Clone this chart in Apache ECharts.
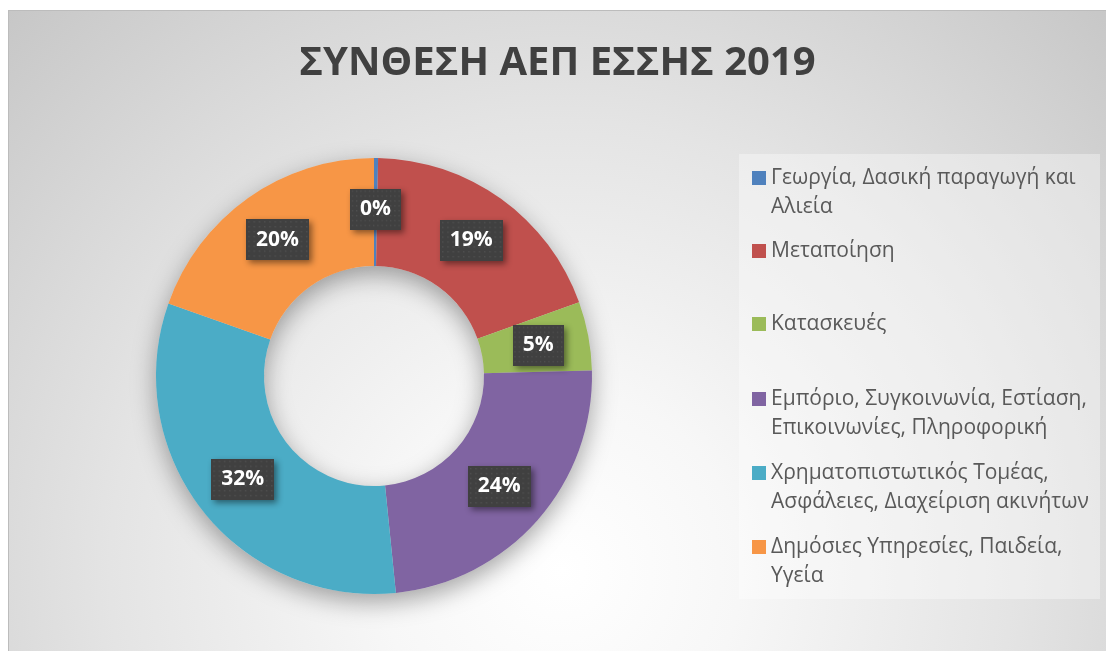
<!DOCTYPE html>
<html>
<head>
<meta charset="utf-8">
<script src="https://cdn.jsdelivr.net/npm/echarts@6/dist/echarts.min.js"></script>
<style>
  html, body { margin: 0; padding: 0; background: #ffffff; }
  #frame {
    position: absolute; left: 8px; top: 10px; width: 1098px; height: 641px;
    background: radial-gradient(circle 820px at 552px 560px, #ffffff 0%, #f7f7f7 22%, #e4e4e4 55%, #c4c4c4 100%);
    border-top: 1px solid #bcbcbc; border-left: 1px solid #bcbcbc; box-sizing: border-box;
  }
</style>
</head>
<body>
<div id="frame"></div>
<script>
const titleText = 'ΣΥΝΘΕΣΗ ΑΕΠ ΕΣΣΗΣ 2019';
const categories = [
  'Γεωργία, Δασική παραγωγή και Αλιεία',
  'Μεταποίηση',
  'Κατασκευές',
  'Εμπόριο, Συγκοινωνία, Εστίαση, Επικοινωνίες, Πληροφορική',
  'Χρηματοπιστωτικός Τομέας, Ασφάλειες, Διαχείριση ακινήτων',
  'Δημόσιες Υπηρεσίες, Παιδεία, Υγεία'
];
const legendLabels = [
  'Γεωργία, Δασική παραγωγή και\nΑλιεία',
  'Μεταποίηση',
  'Κατασκευές',
  'Εμπόριο, Συγκοινωνία, Εστίαση,\nΕπικοινωνίες, Πληροφορική',
  'Χρηματοπιστωτικός Τομέας,\nΑσφάλειες, Διαχείριση ακινήτων',
  'Δημόσιες Υπηρεσίες, Παιδεία,\nΥγεία'
];
const values = [0.3, 19.2, 5.1, 23.8, 32.0, 19.6];
const colors = ['#4f81bd', '#c0504d', '#9bbb59', '#8064a2', '#4bacc6', '#f79646'];

// dotted texture for the data label boxes
function makeDots() {
  const c = document.createElement('canvas');
  c.width = 60; c.height = 42;
  const g = c.getContext('2d');
  g.fillStyle = '#404040';
  g.fillRect(0, 0, c.width, c.height);
  g.fillStyle = '#4f4f4f';
  for (let y = 2; y < c.height; y += 5) {
    for (let x = 2; x < c.width; x += 5) {
      g.fillRect(x, y, 1.5, 1.5);
    }
  }
  return c;
}
const dots = makeDots();

const chart = echarts.init(document.getElementById('frame'), null, { renderer: 'canvas' });

const center = [365, 365];
const radius = [110, 218];
const legendLineCenters = [167, 240, 313, 388, 462, 536];
const lineH = 29;
const sq = 14;
// icon whose visible square sits beside the first of two text lines
const tallIcon = 'path://M0,0L14,0L14,14L0,14Z M0,43L0.001,43L0.001,42.999Z';

const legends = categories.map((name, i) => {
  const twoLine = legendLabels[i].indexOf('\n') >= 0;
  return {
    orient: 'vertical',
    left: 743,
    top: legendLineCenters[i] - lineH / 2,
    padding: 0,
    itemWidth: sq,
    itemHeight: twoLine ? sq + lineH : sq,
    icon: twoLine ? tallIcon : 'rect',
    data: [name],
    formatter: () => legendLabels[i],
    textStyle: {
      fontFamily: 'Open Sans',
      fontSize: 21,
      color: '#595959',
      lineHeight: lineH
    }
  };
});

const option = {
  animation: false,
  color: colors,
  title: {
    text: titleText,
    left: 'center',
    top: 28,
    textStyle: { fontFamily: 'Open Sans', fontWeight: 'bold', fontSize: 40, color: '#404040' }
  },
  graphic: [{
    type: 'rect',
    silent: true,
    z: -1,
    shape: { x: 730, y: 143, width: 361, height: 445 },
    style: { fill: 'rgba(255,255,255,0.35)' }
  }],
  legend: legends,
  series: [
    {
      type: 'pie',
      silent: true,
      z: 1,
      center: center,
      radius: radius,
      label: { show: false },
      labelLine: { show: false },
      itemStyle: { color: '#d8d8d8', shadowBlur: 24, shadowColor: 'rgba(0,0,0,0.35)', shadowOffsetY: 8 },
      data: [{ value: 1, name: '_shadow' }],
      legendHoverLink: false
    },
    {
      type: 'pie',
      z: 2,
      center: center,
      radius: radius,
      startAngle: 90,
      clockwise: true,
      avoidLabelOverlap: false,
      itemStyle: { borderWidth: 0 },
      label: {
        show: true,
        position: 'inside',
        formatter: p => Math.round(p.percent) + '%',
        fontFamily: 'Open Sans',
        fontWeight: 'bold',
        fontSize: 21,
        color: '#ffffff',
        backgroundColor: { image: dots },
        padding: [10, 10, 10, 10],
        shadowColor: 'rgba(0,0,0,0.45)',
        shadowBlur: 6,
        shadowOffsetX: 3,
        shadowOffsetY: 3
      },
      labelLine: { show: false },
      data: categories.map((name, i) => ({ name: name, value: values[i] }))
    }
  ]
};
chart.setOption(option);
</script>
</body>
</html>
